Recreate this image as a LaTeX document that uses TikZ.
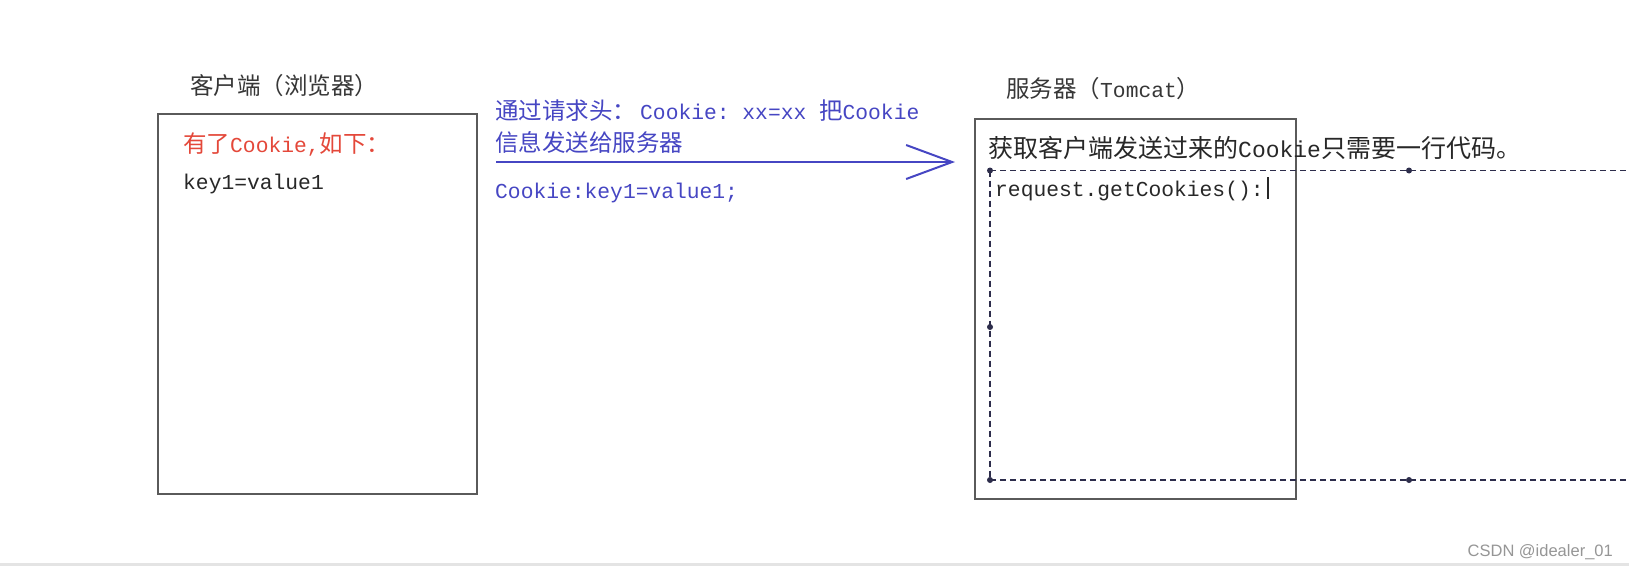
\documentclass[tikz,border=0pt]{standalone}
\usepackage{fontspec}
\setmainfont{Liberation Mono}
\newfontfamily\cjkfont{Noto Sans CJK SC}
\newfontfamily\wmfont{Liberation Sans}
\usetikzlibrary{arrows.meta}
\newcommand{\cj}[1]{{\cjkfont\fontsize{23.5}{28}\selectfont #1}}
\newcommand{\cjb}[1]{{\cjkfont\fontsize{25}{30}\selectfont #1}}
\definecolor{boxgray}{RGB}{90,90,90}
\definecolor{txtblack}{RGB}{40,40,40}
\definecolor{titlegray}{RGB}{55,55,55}
\definecolor{myred}{RGB}{228,72,58}
\definecolor{myblue}{RGB}{70,70,195}
\definecolor{dashcol}{RGB}{45,45,75}
\definecolor{wmgray}{RGB}{150,150,150}
\definecolor{bandgray}{RGB}{228,228,228}
\begin{document}
\begin{tikzpicture}[x=1pt,y=-1pt,
  boxstyle/.style={draw=boxgray, line width=2pt, inner sep=0pt, anchor=north west, fill=white},
  txt/.style={anchor=base west, inner sep=0pt, font=\fontsize{21.3}{26}\selectfont, text=txtblack},
  dashline/.style={draw=dashcol, line width=1.4pt, dash pattern=on 6pt off 4pt},
  dotstyle/.style={fill=dashcol},
  arrowline/.style={draw=myblue, line width=2pt, -{Straight Barb[length=46pt, width=34pt, line width=2pt]}}]
\useasboundingbox (0,0) rectangle (1629,566);
\fill[white] (0,0) rectangle (1629,566);
\fill[bandgray] (0,563) rectangle (1629,566);

% client side
\node[boxstyle, minimum width=319pt, minimum height=380pt] (client) at (157,113) {};
\node[txt, text=titlegray] (ctitle) at (190,94) {\cj{客户端（浏览器）}};
\node[txt, text=myred] (chave) at (183,152) {\cj{有了}Cookie,\cj{如下：}};
\node[txt] (ckey) at (183,189) {key1=value1};

% request header text and arrow
\node[txt, text=myblue] (h1) at (495,119.5) {\cj{通过请求头：}\hspace{4pt}Cookie:\ xx=xx\ \cj{把}Cookie};
\node[txt, text=myblue] (h2) at (495,151) {\cj{信息发送给服务器}};
\coordinate (as) at (496,162);
\coordinate (ae) at (955,162);
\draw[arrowline] (as) -- (ae);
\node[txt, text=myblue] (h3) at (495,198) {Cookie:key1=value1;};

% server side
\node[boxstyle, minimum width=321pt, minimum height=380pt] (server) at (974,118) {};
\node[txt, text=titlegray] (stitle) at (1006,97) {\cj{服务器（}Tomcat\cj{）}};

% dashed selection frame
\coordinate (d1) at (990,170.5);
\coordinate (d2) at (1409,170.5);
\coordinate (d3) at (1629,170.5);
\coordinate (d4) at (990,327);
\coordinate (d5) at (990,480);
\coordinate (d6) at (1409,480);
\coordinate (d7) at (1629,480);
\draw[dashline] (d1) -- (d3);
\draw[dashline] (d5) -- (d7);
\draw[dashline] (d1) -- (d5);
\foreach \p in {d1,d2,d4,d5,d6} \fill[dotstyle] (\p) circle (3pt);

\node[txt, font=\fontsize{23}{28}\selectfont] (sget) at (988,157) {\cjb{获取客户端发送过来的}Cookie\cjb{只需要一行代码。}};
\node[txt] (scode) at (995,196) {request.getCookies():};
\coordinate (c1) at (1268,177);
\coordinate (c2) at (1268,199);
\draw[txtblack, line width=1.6pt] (c1) -- (c2);

% watermark
\node[anchor=base east, inner sep=0pt, text=wmgray, font=\wmfont\fontsize{16.5}{18}\selectfont] (wm) at (1613,556) {CSDN @idealer\_01};
\end{tikzpicture}
\end{document}
